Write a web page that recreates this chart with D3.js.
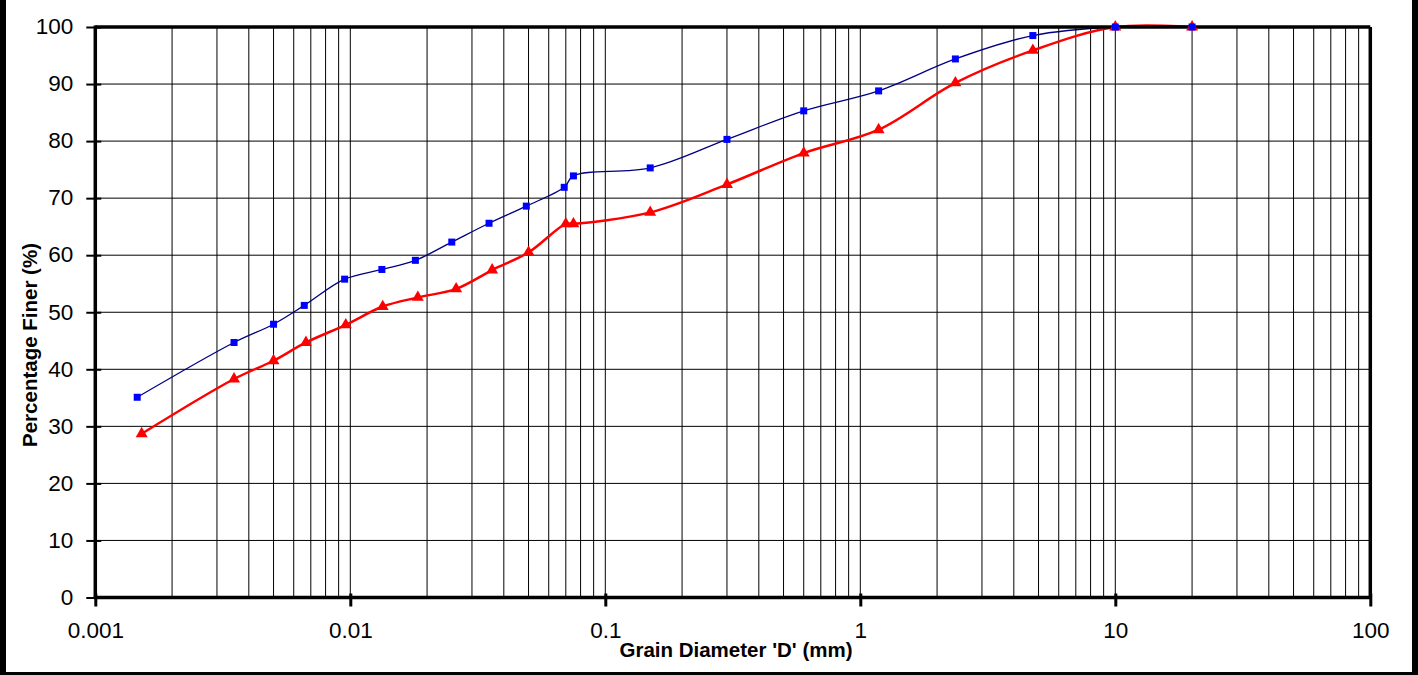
<!DOCTYPE html>
<html>
<head>
<meta charset="utf-8">
<script src="https://cdn.jsdelivr.net/npm/d3@7/dist/d3.min.js"></script>
<style>
  html, body { margin: 0; padding: 0; background: #fff; }
  svg { display: block; }
  text { font-family: "Liberation Sans", Arial, sans-serif; fill: #000; }
</style>
</head>
<body>
<svg id="chart" width="1418" height="675"></svg>
<script>
// Grain size distribution: sieve + hydrometer results for two samples
const sampleADiameter = [0.00146, 0.0035, 0.005, 0.0066, 0.0095, 0.0133, 0.018, 0.025, 0.035, 0.049, 0.069, 0.075, 0.15, 0.3, 0.6, 1.18, 2.36, 4.75, 10, 20];
const sampleAFiner    = [35.1, 44.7, 47.9, 51.2, 55.8, 57.5, 59.1, 62.3, 65.6, 68.6, 71.9, 73.9, 75.3, 80.3, 85.3, 88.8, 94.4, 98.5, 100, 100];

const sampleBDiameter = [0.00152, 0.0035, 0.005, 0.0067, 0.0096, 0.0134, 0.0184, 0.026, 0.036, 0.05, 0.07, 0.075, 0.15, 0.3, 0.6, 1.18, 2.36, 4.75, 10, 20];
const sampleBFiner    = [28.7, 38.3, 41.5, 44.7, 47.8, 51.0, 52.6, 54.1, 57.4, 60.5, 65.5, 65.5, 67.5, 72.4, 77.9, 82.0, 90.2, 95.9, 100, 100];

const xTickValues = [0.001, 0.01, 0.1, 1, 10, 100];
const xTickLabels = ["0.001", "0.01", "0.1", "1", "10", "100"];
const yTickValues = [0, 10, 20, 30, 40, 50, 60, 70, 80, 90, 100];

const svg = d3.select("#chart");
const W = 1418, H = 675;
const plotL = 95.3, plotR = 1370.3, plotT = 27, plotB = 597.5;

svg.append("rect").attr("width", W).attr("height", H).attr("fill", "#fff");

const x = d3.scaleLog().domain([0.001, 100]).range([plotL, plotR]);
const y = d3.scaleLinear().domain([0, 100]).range([plotB, plotT]);

// grid: every 1..9 step inside each decade, horizontal every 10 %
const minorX = [];
for (let e = -3; e <= 1; e++) {
  for (let k = 1; k <= 9; k++) minorX.push(k * Math.pow(10, e));
}
const grid = svg.append("g").attr("stroke", "#000").attr("stroke-width", 1);
grid.selectAll("line.v").data(minorX).join("line")
  .attr("x1", d => x(d)).attr("x2", d => x(d))
  .attr("y1", plotT).attr("y2", plotB);
grid.selectAll("line.h").data(yTickValues.filter(v => v > 0 && v < 100)).join("line")
  .attr("x1", plotL).attr("x2", plotR)
  .attr("y1", d => y(d)).attr("y2", d => y(d));

// series
const pts = (xs, ys) => xs.map((d, i) => [x(d), y(ys[i])]);
const line = d3.line().curve(d3.curveCatmullRom.alpha(0.5));

svg.append("path").attr("d", line(pts(sampleADiameter, sampleAFiner)))
  .attr("fill", "none").attr("stroke", "#000080").attr("stroke-width", 1.3);
svg.append("path").attr("d", line(pts(sampleBDiameter, sampleBFiner)))
  .attr("fill", "none").attr("stroke", "#ff0000").attr("stroke-width", 2.5);

// frame and axes
const frame = svg.append("g").attr("stroke", "#000").attr("fill", "none");
frame.append("line").attr("x1", plotL).attr("x2", plotR).attr("y1", plotT).attr("y2", plotT).attr("stroke-width", 3.5);
frame.append("line").attr("x1", plotR).attr("x2", plotR).attr("y1", plotT).attr("y2", plotB).attr("stroke-width", 3.5);

const yAxis = svg.append("g").attr("transform", `translate(${plotL},0)`)
  .call(d3.axisLeft(y).tickValues(yTickValues).tickSize(9).tickPadding(13));
yAxis.select(".domain").attr("stroke-width", 3.5).attr("d", `M0,${plotT - 1.5}V${plotB + 1.5}`);
yAxis.selectAll(".tick line").attr("x1", 6).attr("x2", -9).attr("stroke-width", 2);
yAxis.selectAll(".tick text").attr("font-size", 22.5).attr("dy", "0.3em")
  .style("font-family", "'Liberation Sans', Arial, sans-serif");

const xAxis = svg.append("g").attr("transform", `translate(0,${plotB})`)
  .call(d3.axisBottom(x).tickValues(xTickValues).tickFormat((d, i) => xTickLabels[i]).tickSize(9).tickPadding(16));
xAxis.select(".domain").attr("stroke-width", 3.5).attr("d", `M${plotL - 1.5},0H${plotR + 1.5}`);
xAxis.selectAll(".tick line").attr("y1", -4).attr("y2", 9).attr("stroke-width", 3);
xAxis.selectAll(".tick text").attr("font-size", 22.5)
  .style("font-family", "'Liberation Sans', Arial, sans-serif");

// markers
svg.append("g").selectAll("path").data(pts(sampleBDiameter, sampleBFiner)).join("path")
  .attr("transform", d => `translate(${d[0]},${d[1]})`)
  .attr("d", d3.symbol(d3.symbolTriangle, 62)())
  .attr("fill", "#ff0000");
svg.append("g").selectAll("rect").data(pts(sampleADiameter, sampleAFiner)).join("rect")
  .attr("x", d => d[0] - 3.5).attr("y", d => d[1] - 3.5)
  .attr("width", 7).attr("height", 7)
  .attr("fill", "#0000ff");

// titles
svg.append("text").attr("x", 736).attr("y", 657).attr("text-anchor", "middle")
  .attr("font-size", 20.5).attr("font-weight", "bold")
  .text("Grain Diameter 'D' (mm)");
svg.append("text").attr("transform", "translate(36.5,345) rotate(-90)").attr("text-anchor", "middle")
  .attr("font-size", 20.5).attr("font-weight", "bold")
  .text("Percentage Finer (%)");

// outer border
svg.append("rect").attr("x", 0).attr("y", 0).attr("width", 6).attr("height", H).attr("fill", "#000");
svg.append("rect").attr("x", 1412).attr("y", 0).attr("width", 6).attr("height", H).attr("fill", "#000");
svg.append("rect").attr("x", 0).attr("y", 672).attr("width", W).attr("height", 3).attr("fill", "#000");
</script>
</body>
</html>
